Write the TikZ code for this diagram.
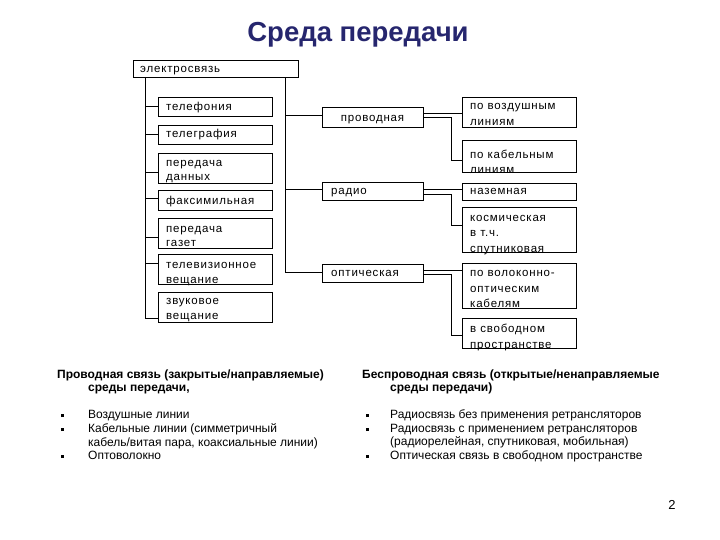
\documentclass[tikz,border=0pt]{standalone}
\usepackage{fontspec}
\setmainfont{Liberation Sans}
\newfontfamily\boxf[LetterSpace=7]{Liberation Sans}
\definecolor{titleblue}{RGB}{38,38,110}
\newcommand\ml[1]{\begin{tabular}[t]{@{}l@{}}#1\end{tabular}}
\tikzset{
 bx/.style 2 args={draw=black, line width=0.8pt, fill=white, inner sep=0pt, minimum width=#1, minimum height=#2},
 bt/.style={anchor=base west, inner sep=0pt, font=\boxf\fontsize{11.5}{14.5}\selectfont},
 btr/.style={anchor=base west, inner sep=0pt, font=\boxf\fontsize{11.5}{15.5}\selectfont},
 ln/.style={line width=0.8pt},
 body/.style={anchor=base west, inner sep=0pt, font=\fontsize{12}{14}\selectfont},
 head/.style={anchor=base west, inner sep=0pt, font=\bfseries\fontsize{12}{14}\selectfont},
 bul/.style={anchor=base west, inner sep=0pt},
}
\begin{document}
\begin{tikzpicture}[x=1pt,y=-1pt]
\useasboundingbox (0,0) rectangle (720,540);
% title
\node[anchor=base, inner sep=0pt, font=\bfseries\fontsize{27.5}{32}\selectfont, text=titleblue] (title) at (358,41.5) {Среда передачи};
% boxes
\node[bx={165}{17}] (el) at (215.5,68.5) {};
\node[bx={114}{19}] (tel) at (215,106.5) {};
\node[bx={114}{19}] (telg) at (215,134.5) {};
\node[bx={114}{30}] (pd) at (215,168) {};
\node[bx={114}{20}] (fax) at (215,200) {};
\node[bx={114}{30}] (pg) at (215,233) {};
\node[bx={114}{30}] (tv) at (215,269) {};
\node[bx={114}{30}] (zv) at (215,307) {};
\node[bx={101}{20}] (prov) at (372.5,117) {};
\node[bx={101}{18}] (radio) at (372.5,191) {};
\node[bx={101}{18}] (opt) at (372.5,273) {};
\node[bx={114}{30}] (vozd) at (519,112) {};
\node[bx={114}{32}] (kab) at (519,156) {};
\node[bx={114}{17}] (naz) at (519,191.5) {};
\node[bx={114}{45}] (kosm) at (519,229.5) {};
\node[bx={114}{45}] (vol) at (519,285.5) {};
\node[bx={114}{30}] (svob) at (519,333) {};
% box texts
\node[bt] (tEl) at (140,72.5) {электросвязь};
\node[bt] (tTel) at (166,110.5) {телефония};
\node[bt] (tTelg) at (166,138) {телеграфия};
\node[bt] (tPd) at (166,166.5) {\ml{передача\\данных}};
\node[bt] (tFax) at (166,204.5) {факсимильная};
\node[bt] (tPg) at (166,232.5) {\ml{передача\\газет}};
\node[bt] (tTv) at (166,268.5) {\ml{телевизионное\\вещание}};
\node[bt] (tZv) at (166,304.5) {\ml{звуковое\\вещание}};
\node[anchor=base, inner sep=0pt, font=\boxf\fontsize{11.5}{14.5}\selectfont] (tProv) at (372.5,121.5) {проводная};
\node[bt] (tRadio) at (331,194.5) {радио};
\node[bt] (tOpt) at (331,276.5) {оптическая};
\node[btr] (tVozd) at (470,110) {\ml{по воздушным\\линиям}};
\node[btr] (tKab) at (470,158.5) {\ml{по кабельным\\линиям}};
\node[btr] (tNaz) at (470,195) {наземная};
\node[btr] (tKosm) at (470,221.5) {\ml{космическая\\в т.ч.\\спутниковая}};
\node[btr] (tVol) at (470,276.5) {\ml{по волоконно-\\оптическим\\кабелям}};
\node[btr] (tSvob) at (470,332.5) {\ml{в свободном\\пространстве}};
% left trunk
\coordinate (ltop) at ([xshift=13pt]el.south west);
\draw[ln] (ltop) |- ([yshift=-11pt]zv.west);
\draw[ln] (ltop |- tel.west) -- (tel.west);
\draw[ln] (ltop |- telg.west) -- (telg.west);
\draw[ln] ([yshift=-4pt]pd.west -| ltop) -- ([yshift=-4pt]pd.west);
\draw[ln] ([yshift=2pt]fax.west -| ltop) -- ([yshift=2pt]fax.west);
\draw[ln] ([yshift=-4pt]pg.west -| ltop) -- ([yshift=-4pt]pg.west);
\draw[ln] ([yshift=6pt]tv.west -| ltop) -- ([yshift=6pt]tv.west);
% right trunk
\coordinate (rtop) at ([xshift=-13pt]el.south east);
\draw[ln] (rtop) |- ([yshift=1pt]opt.west);
\coordinate (provin) at ([yshift=2pt]prov.west);
\coordinate (radioin) at ([yshift=2pt]radio.west);
\draw[ln] (provin -| rtop) -- (provin);
\draw[ln] (radioin -| rtop) -- (radioin);
% second level
\coordinate (ex) at (451,0);
\coordinate (provA) at ([yshift=4pt]prov.east);
\coordinate (kabin) at ([yshift=-4pt]kab.west);
\draw[ln] (provA) -- (provA -| vozd.west);
\draw[ln] (prov.east) -| (kabin -| ex) -- (kabin);
\coordinate (radA) at ([yshift=2pt]radio.east);
\coordinate (radB) at ([yshift=-3pt]radio.east);
\coordinate (kosmin) at ([yshift=4.5pt]kosm.west);
\draw[ln] (radA) -- (radA -| naz.west);
\draw[ln] (radB) -| (kosmin -| ex) -- (kosmin);
\coordinate (optA) at ([yshift=3pt]opt.east);
\coordinate (optB) at ([yshift=-1pt]opt.east);
\coordinate (svobin) at ([yshift=-2pt]svob.west);
\draw[ln] (optA) -- (optA -| vol.west);
\draw[ln] (optB) -| (svobin -| ex) -- (svobin);
% bottom text left
\node[head] (h1) at (57,378.5) {Проводная связь (закрытые/направляемые)};
\node[head] (h1b) at (88,391.5) {среды передачи,};
\node[bul] (b1) at (61,418.5) {\rule[1.5pt]{3pt}{3.5pt}};
\node[bul] (b2) at (61,432.5) {\rule[1.5pt]{3pt}{3.5pt}};
\node[bul] (b3) at (61,459.5) {\rule[1.5pt]{3pt}{3.5pt}};
\node[body] (l1) at (88,418.5) {Воздушные линии};
\node[body] (l2) at (88,432.5) {Кабельные линии (симметричный};
\node[body] (l3) at (88,446) {кабель/витая пара, коаксиальные линии)};
\node[body] (l4) at (88,459.5) {Оптоволокно};
% bottom text right
\node[head] (h2) at (362,378.5) {Беспроводная связь (открытые/ненаправляемые};
\node[head] (h2b) at (390,391.5) {среды передачи)};
\node[bul] (c1) at (366,418.5) {\rule[1.5pt]{3pt}{3.5pt}};
\node[bul] (c2) at (366,432.5) {\rule[1.5pt]{3pt}{3.5pt}};
\node[bul] (c3) at (366,459.5) {\rule[1.5pt]{3pt}{3.5pt}};
\node[body] (r1) at (390,418.5) {Радиосвязь без применения ретрансляторов};
\node[body] (r2) at (390,432.5) {Радиосвязь с применением ретрансляторов};
\node[body] (r3) at (390,445.5) {(радиорелейная, спутниковая, мобильная)};
\node[body] (r4) at (390,459.5) {Оптическая связь в свободном пространстве};
% page number
\node[anchor=base, inner sep=0pt, font=\fontsize{13}{15}\selectfont] (pn) at (672,509) {2};
\end{tikzpicture}
\end{document}
